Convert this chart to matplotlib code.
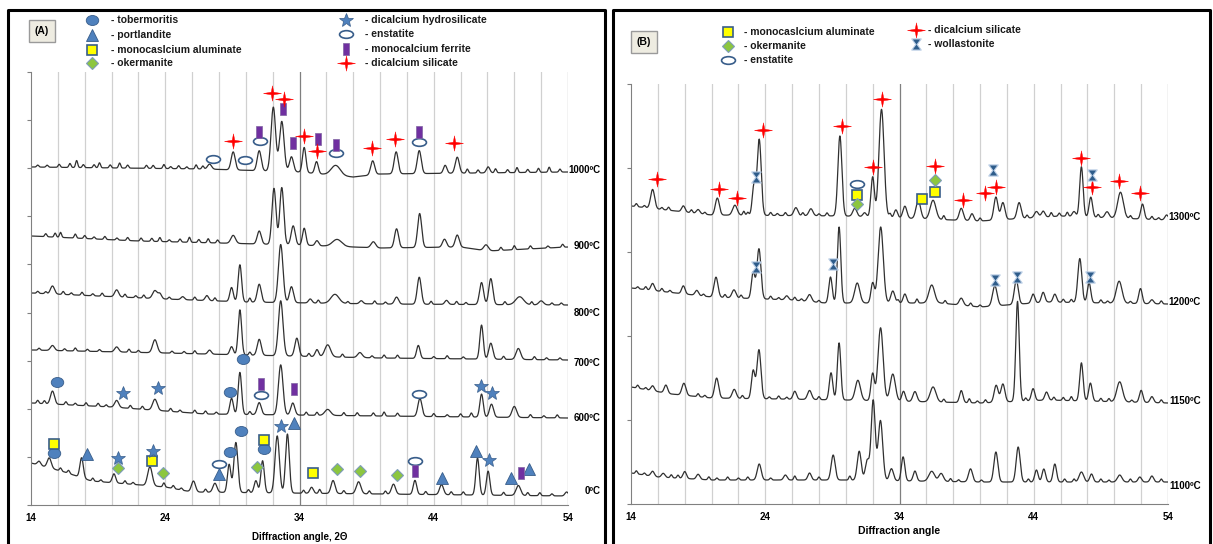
import numpy as np
import matplotlib.pyplot as plt
from matplotlib.path import Path

plt.rcParams['font.family'] = ['Liberation Sans', 'DejaVu Sans']

x = np.linspace(14, 54, 4001)

# ---------------- panel A (intensity in arbitrary units, traces stacked) ----------------
# baseline points (angle, level), main peaks (angle, height, fwhm), small bumps (angle, height)
base_1000 = [(14, 338), (27, 336), (34, 333), (38, 328), (40, 331), (54, 333)]
peaks_1000 = [(27.3, 5, 0.35), (29.06, 18, 0.35), (31.0, 20, 0.35), (32.05, 64, 0.4), (32.68, 50, 0.4),
              (33.4, 15, 0.35), (34.35, 25, 0.3), (35.27, 12, 0.3), (36.7, 10, 0.8), (39.45, 14, 0.35),
              (41.2, 22, 0.35), (42.92, 23, 0.35), (44.85, 8, 0.3), (45.75, 16, 0.35), (48.05, 6, 0.3)]
minor_1000 = [(14.5, 2), (15.2, 2), (16.1, 3), (16.9, 4), (17.4, 7), (17.9, 3), (18.7, 3), (19.1, 5),
              (19.9, 3), (20.6, 5), (21.2, 3), (22.6, 3), (23.1, 3), (23.9, 4), (24.4, 2), (25.0, 3),
              (25.6, 2), (26.3, 4), (26.8, 3), (46.5, 4), (47.3, 3), (48.6, 4), (49.5, 3), (50.2, 5),
              (51.0, 3), (51.8, 4), (52.6, 5), (53.4, 3)]

base_900 = [(14, 269), (22, 264), (28, 262), (34, 260), (40, 257), (46, 258), (48, 254), (54, 258)]
peaks_900 = [(29.06, 8, 0.4), (31.0, 13, 0.35), (32.1, 56, 0.35), (32.68, 57, 0.35), (33.53, 19, 0.35),
             (34.35, 17, 0.3), (35.3, 5, 0.3), (36.8, 7, 0.8), (39.5, 6, 0.4), (41.23, 19, 0.35),
             (42.95, 34, 0.35), (44.8, 8, 0.35), (45.75, 12, 0.35), (47.9, 6, 0.4)]
minor_900 = [(15.1, 3), (15.8, 4), (16.2, 5), (17.3, 4), (18.0, 3), (18.7, 2), (19.5, 3), (20.4, 2),
             (21.2, 3), (22.2, 3), (23.0, 3), (23.6, 4), (24.3, 2), (25.1, 3), (25.8, 5), (26.5, 3),
             (27.2, 4), (27.9, 3), (49.0, 3), (50.0, 4), (51.2, 3), (52.5, 2), (53.6, 3)]

base_800 = [(14, 212), (24, 206), (30, 203), (40, 201), (54, 200)]
peaks_800 = [(15.6, 8, 0.35), (20.38, 7, 0.35), (23.23, 8, 0.4), (23.6, 5, 0.3), (25.3, 3, 0.3),
             (27.1, 5, 0.3), (28.94, 14, 0.3), (29.56, 37, 0.3), (31.0, 18, 0.35), (32.6, 58, 0.4),
             (33.4, 16, 0.35), (34.8, 4, 0.3), (36.64, 9, 0.7), (38.6, 3, 0.3), (41.23, 7, 0.35),
             (42.92, 27, 0.35), (44.95, 4, 0.3), (47.56, 22, 0.35), (48.25, 26, 0.35), (50.4, 8, 0.7),
             (52.0, 4, 0.4)]
minor_800 = [(14.5, 2), (15.1, 2), (16.4, 3), (17.0, 2), (17.8, 3), (18.6, 2), (19.3, 3), (21.0, 3),
             (21.8, 2), (22.4, 3), (24.3, 2), (26.2, 3), (27.7, 3), (30.3, 4), (35.4, 3), (37.6, 2),
             (39.6, 3), (40.4, 2), (43.8, 3), (45.7, 3), (46.4, 2), (49.3, 3), (51.3, 3), (52.8, 2),
             (53.5, 2)]

base_700 = [(14, 155), (24, 152), (30, 150), (40, 147), (54, 145)]
peaks_700 = [(15.6, 5, 0.35), (20.38, 5, 0.35), (23.23, 13, 0.4), (27.3, 4, 0.3), (28.94, 8, 0.3),
             (29.56, 45, 0.3), (31.0, 16, 0.35), (32.6, 55, 0.4), (33.8, 18, 0.35), (35.3, 7, 0.3),
             (36.1, 12, 0.5), (38.5, 5, 0.4), (42.85, 13, 0.3), (47.56, 34, 0.3), (48.25, 16, 0.35),
             (50.3, 11, 0.4)]
minor_700 = [(14.6, 2), (16.5, 2), (17.3, 3), (18.2, 2), (19.1, 2), (21.3, 3), (22.0, 2), (24.5, 2),
             (25.4, 2), (26.2, 3), (30.3, 3), (34.7, 3), (37.2, 3), (39.4, 2), (40.3, 3), (41.3, 3),
             (44.0, 2), (45.0, 3), (46.2, 2), (49.2, 3), (51.5, 3), (52.4, 2), (53.4, 2)]

base_600 = [(14, 102), (20, 98), (27, 91), (40, 89), (54, 87)]
peaks_600 = [(15.6, 13, 0.35), (20.38, 7, 0.35), (23.23, 11, 0.4), (28.94, 16, 0.3), (29.56, 42, 0.3),
             (31.0, 12, 0.35), (32.6, 50, 0.4), (33.5, 12, 0.35), (36.1, 6, 0.5), (42.97, 18, 0.35),
             (47.56, 23, 0.3), (48.3, 13, 0.35), (50.0, 11, 0.4)]
minor_600 = [(14.5, 3), (15.0, 3), (16.6, 3), (17.3, 2), (18.1, 3), (19.0, 3), (19.6, 2), (21.4, 3),
             (22.3, 3), (24.4, 3), (25.1, 2), (26.2, 3), (27.0, 3), (27.8, 2), (30.3, 3), (34.5, 3),
             (35.3, 3), (37.3, 3), (38.3, 3), (39.5, 3), (40.3, 4), (41.3, 3), (44.0, 3), (45.0, 2),
             (46.0, 3), (46.8, 4), (51.2, 3), (52.2, 2), (53.2, 3)]

base_0 = [(14, 42), (16.5, 33), (18.5, 24), (24, 18), (26, 13), (40, 11), (54, 9)]
peaks_0 = [(14.6, 4, 0.3), (15.36, 10, 0.35), (17.77, 20, 0.3), (20.18, 9, 0.3), (22.86, 19, 0.4),
           (26.1, 11, 0.35), (27.7, 9, 0.35), (28.76, 28, 0.3), (29.26, 50, 0.35), (30.75, 12, 0.3),
           (31.25, 32, 0.3), (32.34, 57, 0.38), (33.1, 59, 0.33), (34.9, 6, 0.3), (36.5, 13, 0.35),
           (38.4, 12, 0.4), (41.0, 10, 0.35), (42.6, 14, 0.3), (44.58, 10, 0.35), (47.26, 37, 0.3),
           (48.05, 24, 0.3), (50.3, 10, 0.4), (53.9, 4, 0.3)]
minor_0 = [(16.2, 3), (16.8, 3), (18.6, 3), (19.2, 2), (21.0, 3), (21.6, 2), (23.9, 4), (24.6, 3),
           (25.2, 2), (27.0, 3), (30.2, 3), (34.3, 3), (35.5, 4), (37.3, 3), (39.2, 3), (40.4, 3),
           (43.4, 3), (45.3, 3), (46.2, 3), (49.2, 3), (51.0, 3), (51.9, 3), (52.8, 2)]

labels_A = ['1000ºC', '900ºC', '800ºC', '700ºC', '600ºC', '0ºC']
label_y_A = [335, 259, 192, 142, 87, 14]

# phase markers, panel A: (angle, level)
A_tobermoritis = [(15.91, 122.7), (28.86, 113.3), (29.76, 146), (15.71, 51.7), (28.86, 53.3),
                  (29.63, 74), (31.35, 55.7)]
A_portlandite = [(18.14, 50.7), (28.0, 30.7), (33.58, 81.7), (44.58, 27.3), (47.11, 54),
                 (49.72, 27.3), (51.08, 35.7)]
A_aluminate = [(15.71, 60.7), (23.03, 44), (31.35, 65), (35.03, 31.7)]
A_okermanite = [(20.5, 36.7), (23.85, 31.7), (30.8, 37.7), (36.76, 35.7), (38.5, 34.3), (41.23, 30)]
A_hydrosilicate = [(20.82, 111.7), (23.43, 116.7), (47.51, 119.3), (48.35, 112.3), (20.5, 47.3),
                   (23.1, 54.3), (32.6, 79), (48.1, 45)]
A_enstatite = [(27.57, 345.7), (29.93, 345), (31.05, 364.3), (36.69, 351.7), (42.92, 363.3),
               (31.1, 110), (42.92, 110.7), (28.0, 40.7), (42.64, 44)]
A_ferrite = [(31.0, 372.7), (32.78, 395.7), (33.53, 361.7), (35.4, 365.7), (36.69, 360),
             (42.92, 373.3), (31.1, 120.7), (33.6, 116.3), (42.64, 34.3), (50.49, 31.7)]
A_silicate = [(29.06, 364), (31.92, 411.7), (32.83, 406), (34.35, 369.3), (35.27, 354),
              (39.37, 356.7), (41.11, 366), (45.52, 362.3)]

# ---------------- panel B ----------------
base_1300 = [(14, 298), (18, 292), (20, 289), (30, 288), (40, 283), (46, 288), (54, 284)]
peaks_1300 = [(15.61, 19, 0.35), (17.9, 6, 0.3), (19.0, 4, 0.3), (20.43, 17, 0.35), (21.74, 10, 0.4),
              (23.16, 30, 0.3), (23.55, 76, 0.35), (26.28, 8, 0.35), (27.4, 7, 0.35), (29.56, 80, 0.35),
              (30.67, 8, 0.35), (31.4, 4, 0.3), (32.0, 40, 0.3), (32.66, 108, 0.45), (33.73, 8, 0.3),
              (34.4, 12, 0.35), (35.4, 18, 0.4), (36.5, 19, 0.5), (38.6, 12, 0.35), (39.4, 7, 0.3),
              (41.18, 23, 0.35), (41.7, 17, 0.35), (42.91, 16, 0.35), (44.2, 6, 0.35), (44.7, 6, 0.3),
              (47.0, 5, 0.3), (47.55, 50, 0.3), (48.25, 20, 0.3), (49.46, 6, 0.35), (50.46, 26, 0.5),
              (52.1, 15, 0.3), (53.9, 5, 0.3)]
minor_1300 = [(14.4, 3), (15.0, 2), (16.3, 2), (16.8, 3), (18.5, 3), (19.5, 2), (22.4, 4), (22.7, 3),
              (24.4, 3), (24.9, 2), (25.5, 3), (26.8, 3), (28.0, 2), (28.6, 3), (33.3, 4), (37.3, 4),
              (40.0, 3), (43.5, 3), (45.3, 4), (45.9, 3), (46.5, 4), (48.8, 3), (51.2, 3), (52.8, 3),
              (53.3, 2)]

base_1200 = [(14, 216), (20, 207), (26, 204), (28.5, 201), (37, 201), (40, 197), (45, 202), (54, 200)]
peaks_1200 = [(15.61, 7, 0.3), (17.9, 8, 0.3), (18.9, 5, 0.3), (20.33, 20, 0.35), (21.67, 8, 0.35),
              (23.1, 26, 0.3), (23.53, 50, 0.35), (25.6, 4, 0.3), (27.3, 7, 0.35), (28.86, 26, 0.3),
              (29.5, 76, 0.3), (30.85, 20, 0.45), (32.0, 20, 0.3), (32.6, 76, 0.45), (33.5, 12, 0.35),
              (34.4, 9, 0.3), (36.4, 18, 0.5), (38.6, 7, 0.35), (41.1, 20, 0.4), (42.7, 24, 0.35),
              (43.95, 9, 0.3), (44.7, 10, 0.3), (45.57, 8, 0.3), (47.43, 44, 0.35), (48.12, 20, 0.3),
              (50.36, 22, 0.5), (51.95, 15, 0.3), (52.8, 4, 0.3)]
minor_1200 = [(14.5, 2), (15.1, 3), (16.3, 3), (16.9, 2), (19.4, 2), (21.0, 3), (22.2, 3), (24.4, 3),
              (25.0, 2), (26.2, 3), (26.7, 2), (28.0, 2), (33.9, 3), (35.3, 4), (37.4, 3), (39.3, 3),
              (40.0, 2), (46.2, 3), (46.8, 3), (49.0, 3), (49.5, 2), (51.2, 2), (53.5, 3)]

base_1150 = [(14, 117), (17, 110), (20, 106), (30, 104), (40, 101), (45, 104), (54, 101)]
peaks_1150 = [(15.61, 5, 0.3), (16.6, 8, 0.3), (17.94, 12, 0.35), (20.38, 20, 0.35), (21.69, 9, 0.35),
              (23.1, 28, 0.3), (23.53, 49, 0.35), (26.2, 8, 0.3), (27.3, 9, 0.35), (28.9, 27, 0.3),
              (29.5, 57, 0.3), (30.9, 20, 0.45), (32.0, 27, 0.3), (32.59, 73, 0.45), (33.5, 27, 0.45),
              (34.3, 10, 0.3), (35.15, 10, 0.35), (36.5, 15, 0.5), (38.6, 12, 0.3), (41.2, 17, 0.35),
              (41.7, 18, 0.35), (42.79, 100, 0.3), (43.95, 12, 0.3), (44.95, 8, 0.3), (47.55, 38, 0.3),
              (48.22, 18, 0.3), (50.4, 20, 0.5), (52.0, 12, 0.3), (52.8, 6, 0.3)]
minor_1150 = [(14.5, 3), (15.1, 2), (19.0, 3), (19.5, 2), (22.3, 3), (24.3, 2), (25.0, 3), (25.6, 2),
              (28.0, 3), (37.3, 3), (39.2, 4), (39.8, 2), (40.4, 3), (43.4, 3), (45.5, 3), (46.2, 3),
              (46.8, 4), (49.0, 3), (49.6, 3), (51.3, 2), (53.5, 3)]

base_1100 = [(14, 31), (16, 27), (20, 24), (30, 24), (40, 22), (54, 22)]
peaks_1100 = [(15.61, 5, 0.3), (16.4, 4, 0.3), (18.0, 7, 0.3), (19.0, 5, 0.3), (23.55, 16, 0.35),
              (25.5, 5, 0.3), (27.3, 7, 0.3), (29.06, 25, 0.35), (31.0, 29, 0.35), (31.6, 20, 0.35),
              (32.04, 80, 0.35), (32.58, 60, 0.4), (33.4, 12, 0.35), (34.27, 24, 0.3), (35.15, 10, 0.3),
              (36.4, 10, 0.5), (37.1, 8, 0.4), (39.29, 13, 0.35), (41.18, 30, 0.35), (42.84, 35, 0.35),
              (44.2, 12, 0.3), (44.75, 13, 0.3), (45.57, 18, 0.3), (47.55, 10, 0.4), (48.3, 8, 0.3),
              (50.4, 7, 0.4), (51.9, 5, 0.3), (52.8, 6, 0.3)]
minor_1100 = [(14.4, 3), (15.0, 2), (17.0, 3), (17.5, 3), (19.8, 3), (20.4, 2), (21.2, 3), (22.0, 2),
              (22.7, 3), (24.4, 2), (26.2, 4), (28.0, 3), (30.3, 4), (37.8, 3), (38.4, 2), (40.1, 2),
              (43.6, 3), (46.3, 3), (47.0, 3), (49.0, 3), (49.6, 2), (51.2, 3), (53.5, 3)]

labels_B = ['1300ºC', '1200ºC', '1150ºC', '1100ºC']
label_y_B = [287, 202, 103, 18]

B_silicate = [(15.91, 325), (20.58, 314.7), (21.87, 306.3), (23.8, 374), (29.68, 378.3), (32.0, 336.7),
              (32.7, 405), (36.63, 338), (38.75, 304), (40.36, 310.7), (41.18, 316.7), (47.5, 345.7),
              (48.35, 316.7), (50.36, 323.3), (51.95, 310.7)]
B_wollastonite = [(23.3, 326.7), (40.98, 334), (48.35, 329), (23.3, 237.3), (29.06, 239.7),
                  (41.1, 224), (42.76, 226.7), (48.17, 227.3)]
B_enstatite = [(30.85, 319.7)]
B_aluminate = [(30.85, 309), (35.64, 304.7), (36.68, 311.7)]
B_okermanite = [(30.85, 299.7), (36.68, 324)]


def pattern(base, peaks, minor):
    bx, by = zip(*base)
    y = np.interp(x, bx, by)
    for p, h, w in peaks:
        y = y + h * np.exp(-4 * np.log(2) * ((x - p) / w) ** 2)
    for p, h in minor:
        y = y + h * np.exp(-4 * np.log(2) * ((x - p) / 0.18) ** 2)
    return y


# marker shapes
circ = Path.unit_circle()
ellipse_wide = Path(circ.vertices * [1, 0.55], circ.codes)
ellipse_fat = Path(circ.vertices * [1, 0.8], circ.codes)
bar = Path([(-0.55, -1), (0.55, -1), (0.55, 1), (-0.55, 1), (-0.55, -1)], closed=True)
star4 = Path([(0, 0.85), (0.14, 0.14), (1, 0), (0.14, -0.14), (0, -0.85), (-0.14, -0.14),
              (-1, 0), (-0.14, 0.14), (0, 0.85)], closed=True)
hourglass = Path([(-0.85, 1), (0.85, 1), (0.12, 0), (0.85, -1), (-0.85, -1), (-0.12, 0),
                  (-0.85, 1)], closed=True)

blue = '#4F81BD'
edge = '#385D8A'
st = {
    'tobermoritis': dict(marker=ellipse_fat, ms=9, mfc=blue, mec=edge, mew=0.6),
    'portlandite': dict(marker='^', ms=8, mfc=blue, mec=edge, mew=0.6),
    'aluminate': dict(marker='s', ms=7.5, mfc='#FFFF00', mec=edge, mew=1.2),
    'okermanite': dict(marker='D', ms=5.8, mfc='#8CC63F', mec='#7F9DB9', mew=0.8),
    'hydrosilicate': dict(marker='*', ms=10, mfc=blue, mec=edge, mew=0.5),
    'enstatite': dict(marker=ellipse_wide, ms=10, mfc='white', mec=edge, mew=1.2),
    'ferrite': dict(marker=bar, ms=8, mfc='#7030A0', mec='#8064A2', mew=0.5),
    'silicate': dict(marker=star4, ms=13, mfc='#FF0000', mec='#FF0000', mew=0.3),
    'wollastonite': dict(marker=hourglass, ms=8, mfc='#2E5C8A', mec='#B9CDE5', mew=0.8),
}

fig = plt.figure(figsize=(12.13, 5.44), dpi=100)
W, H = 1213, 544

# overlay for frames and legends, in pixel coordinates
ov = fig.add_axes([0, 0, 1, 1], zorder=3)
ov.set_xlim(0, W)
ov.set_ylim(H, 0)
ov.axis('off')
for x0, x1 in [(8, 605), (613, 1210)]:
    ov.plot([x0, x0, x1, x1], [H + 5, 10, 10, H + 5], color='black', lw=2.2, clip_on=False)


def panel(left_px, top_px, bottom_px, ymax, nticks):
    ax = fig.add_axes([left_px / W, 1 - bottom_px / H, 537 / W, (bottom_px - top_px) / H])
    ax.set_facecolor('none')
    ax.set_xlim(14, 54)
    ax.set_ylim(0, ymax)
    for g in range(16, 54, 2):
        ax.axvline(g, color='#7F7F7F' if g == 34 else '#D0D0D0', lw=0.9, zorder=0)
    ax.axvline(54, color='#A0A0A0', lw=0.9, zorder=0)
    for s in ['top', 'right']:
        ax.spines[s].set_visible(False)
    ax.spines['left'].set_color('#808080')
    ax.spines['bottom'].set_color('#808080')
    ax.set_xticks([14, 24, 34, 44, 54])
    ax.set_yticks(np.linspace(0, ymax, nticks + 1))
    ax.set_yticklabels([])
    ax.tick_params(axis='x', length=0, pad=6, labelsize=7)
    ax.tick_params(axis='y', length=3, color='#808080', direction='out')
    for t in ax.get_xticklabels():
        t.set_fontweight('bold')
    return ax


axA = panel(31, 72, 505, 433, 9)
axB = panel(631, 84, 504, 420, 5)

for b, p, m in [(base_1000, peaks_1000, minor_1000), (base_900, peaks_900, minor_900),
                (base_800, peaks_800, minor_800), (base_700, peaks_700, minor_700),
                (base_600, peaks_600, minor_600), (base_0, peaks_0, minor_0)]:
    axA.plot(x, pattern(b, p, m), color='#303030', lw=0.9)
for lab, ly in zip(labels_A, label_y_A):
    axA.text(56.4, ly, lab, ha='right', va='center', fontsize=7, fontweight='bold', clip_on=False)

for b, p, m in [(base_1300, peaks_1300, minor_1300), (base_1200, peaks_1200, minor_1200),
                (base_1150, peaks_1150, minor_1150), (base_1100, peaks_1100, minor_1100)]:
    axB.plot(x, pattern(b, p, m), color='#303030', lw=0.9)
for lab, ly in zip(labels_B, label_y_B):
    axB.text(56.45, ly, lab, ha='right', va='center', fontsize=7, fontweight='bold', clip_on=False)


def put(ax, pts, key):
    px, py = zip(*pts)
    ax.plot(px, py, ls='none', clip_on=False, zorder=5, **st[key])


put(axA, A_tobermoritis, 'tobermoritis')
put(axA, A_portlandite, 'portlandite')
put(axA, A_aluminate, 'aluminate')
put(axA, A_okermanite, 'okermanite')
put(axA, A_hydrosilicate, 'hydrosilicate')
put(axA, A_enstatite, 'enstatite')
put(axA, A_ferrite, 'ferrite')
put(axA, A_silicate, 'silicate')

put(axB, B_silicate, 'silicate')
put(axB, B_wollastonite, 'wollastonite')
put(axB, B_enstatite, 'enstatite')
put(axB, B_aluminate, 'aluminate')
put(axB, B_okermanite, 'okermanite')

axA.set_xlabel('Diffraction angle, 2Θ', fontsize=7, fontweight='bold', labelpad=6)
axB.set_xlabel('Diffraction angle', fontsize=7.5, fontweight='bold', labelpad=3)

# legends
box = dict(boxstyle='square,pad=0.55', fc='#EEECE1', ec='#9A9A9A', lw=1)
ov.text(42, 31, '(A)', ha='center', va='center', fontsize=7.5, fontweight='bold', bbox=box)
ov.text(644, 42, '(B)', ha='center', va='center', fontsize=7.5, fontweight='bold', bbox=box)

legA = [(92, 20, 'tobermoritis', '- tobermoritis'), (92, 35, 'portlandite', '- portlandite'),
        (92, 50, 'aluminate', '- monocaslcium aluminate'), (92, 63, 'okermanite', '- okermanite'),
        (346, 20, 'hydrosilicate', '- dicalcium hydrosilicate'), (346, 34, 'enstatite', '- enstatite'),
        (346, 49, 'ferrite', '- monocalcium ferrite'), (346, 63, 'silicate', '- dicalcium silicate')]
legB = [(728, 32, 'aluminate', '- monocaslcium aluminate'), (728, 46, 'okermanite', '- okermanite'),
        (728, 60, 'enstatite', '- enstatite'), (916, 30, 'silicate', '- dicalcium silicate'),
        (916, 44, 'wollastonite', '- wollastonite')]
for lx, ly, key, txt in legA:
    ov.plot([lx], [ly], ls='none', **st[key])
    ov.text(lx + 19, ly, txt, ha='left', va='center', fontsize=7.5, fontweight='bold', color='#1A1A1A')
for lx, ly, key, txt in legB:
    ov.plot([lx], [ly], ls='none', **st[key])
    ov.text(lx + (12 if key in ('silicate', 'wollastonite') else 16), ly, txt, ha='left', va='center',
            fontsize=7.5, fontweight='bold', color='#1A1A1A')

fig.savefig('out.png', dpi=100)
